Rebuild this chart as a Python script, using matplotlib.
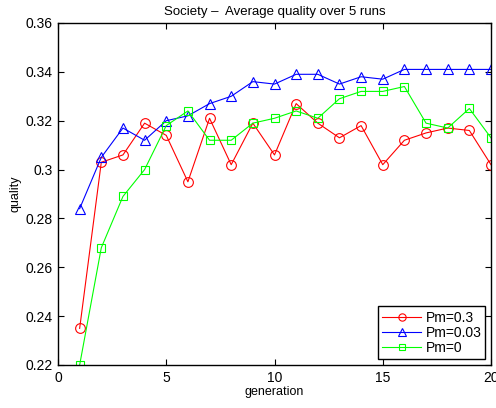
import matplotlib
matplotlib.use("Agg")
import matplotlib.pyplot as plt

generations = list(range(1, 21))
pm_03 = [0.235, 0.303, 0.306, 0.319, 0.314, 0.295, 0.321, 0.302, 0.319, 0.306,
         0.327, 0.319, 0.313, 0.318, 0.302, 0.312, 0.315, 0.317, 0.316, 0.302]
pm_003 = [0.284, 0.305, 0.317, 0.312, 0.320, 0.322, 0.327, 0.330, 0.336, 0.335,
          0.339, 0.339, 0.335, 0.338, 0.337, 0.341, 0.341, 0.341, 0.341, 0.341]
pm_0 = [0.220, 0.268, 0.289, 0.300, 0.318, 0.324, 0.312, 0.312, 0.319, 0.321,
        0.324, 0.321, 0.329, 0.332, 0.332, 0.334, 0.319, 0.317, 0.325, 0.313]
labels = ["Pm=0.3", "Pm=0.03", "Pm=0"]
x_ticks = [0, 5, 10, 15, 20]
y_ticks = [0.22, 0.24, 0.26, 0.28, 0.3, 0.32, 0.34, 0.36]
y_tick_labels = ["0.22", "0.24", "0.26", "0.28", "0.3", "0.32", "0.34", "0.36"]

plt.rcParams["font.family"] = ["Liberation Sans", "DejaVu Sans"]

fig = plt.figure(figsize=(4.96, 4.08), dpi=100)
ax = fig.add_axes([58 / 496, 43 / 408, 433 / 496, 342 / 408])

ax.plot(generations, pm_03, color="#ff0000", marker="o", markersize=7,
        markerfacecolor="none", markeredgewidth=0.8, linewidth=0.8, label=labels[0])
ax.plot(generations, pm_003, color="#0000ff", marker="^", markersize=7.5,
        markerfacecolor="none", markeredgewidth=0.8, linewidth=0.8, label=labels[1])
ax.plot(generations, pm_0, color="#00ff00", marker="s", markersize=6,
        markerfacecolor="none", markeredgewidth=0.8, linewidth=0.8, label=labels[2])

ax.set_xlim(0, 20)
ax.set_ylim(0.22, 0.36)
ax.set_xticks(x_ticks)
ax.set_yticks(y_ticks)
ax.set_yticklabels(y_tick_labels)
ax.tick_params(direction="in", top=True, right=True, labelsize=10, length=4,
               width=0.8, pad=4)
for s in ax.spines.values():
    s.set_linewidth(1.0)

ax.set_xlabel("generation", fontsize=9, labelpad=1)
ax.set_ylabel("quality", fontsize=9, labelpad=3)
ax.set_title("Society \u2013  Average quality over 5 runs", fontsize=9.5, pad=6)

leg = ax.legend(loc="lower right", fontsize=10, fancybox=False, framealpha=1,
                edgecolor="black", borderpad=0.3, labelspacing=0.1,
                handlelength=2.8, handletextpad=0.3, borderaxespad=0.4,
                markerscale=0.75)
leg.get_frame().set_linewidth(1.0)

fig.savefig("out.png", dpi=100)
